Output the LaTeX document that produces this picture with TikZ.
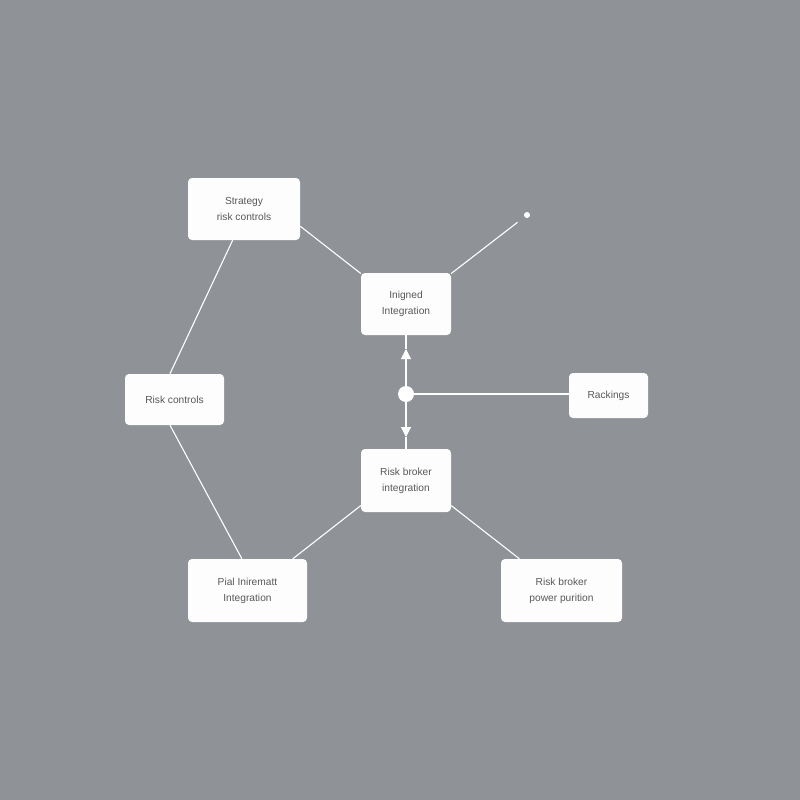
\documentclass[tikz,border=0pt]{standalone}
\usepackage{fontspec}
\setmainfont{Liberation Sans}
\usetikzlibrary{arrows.meta}
\definecolor{bg}{RGB}{143,147,151}
\definecolor{txt}{RGB}{88,88,90}
\definecolor{boxfill}{RGB}{253,253,253}
\tikzset{
  box/.style={draw=none, fill=boxfill, rounded corners=4pt, inner sep=0pt,
    align=center, text=txt, font=\fontsize{10.2}{16}\selectfont},
  wire/.style={draw=white, line width=1.1pt},
  tip/.style={-{Triangle[length=10pt,width=10pt]}}
}
\begin{document}
\begin{tikzpicture}[x=1pt,y=-1pt]
\fill[bg] (0,0) rectangle (800,800);
\useasboundingbox (0,0) rectangle (800,800);

\node[box, minimum width=112pt, minimum height=62pt] (strat) at (244,209) {Strategy\\risk controls};
\node[box, minimum width=90pt, minimum height=62pt] (inig) at (406,304) {Inigned\\Integration};
\node[box, minimum width=99pt, minimum height=51pt] (ctrl) at (174.5,399.5) {Risk controls};
\node[box, minimum width=79pt, minimum height=45pt] (rack) at (608.5,395.5) {Rackings};
\node[box, minimum width=90pt, minimum height=63pt] (rbi) at (406,480.5) {Risk broker\\integration};
\node[box, minimum width=119pt, minimum height=63pt] (pial) at (247.5,590.5) {Pial Inirematt\\Integration};
\node[box, minimum width=121pt, minimum height=63pt] (rbp) at (561.5,590.5) {Risk broker\\power purition};

\node[circle, fill=white, minimum size=16pt, inner sep=0pt] (j) at (406,394) {};
\node[circle, fill=white, minimum size=6pt, inner sep=0pt, outer sep=9pt] (dot) at (527,215) {};
\coordinate (up) at (406,349);
\coordinate (dn) at (406,437);

\draw[wire] (strat.-17) -- (inig.146);
\draw[wire] (inig.34) -- (dot);
\draw[wire] (strat.-110) -- (ctrl.100);
\draw[wire] (ctrl.-100) -- (pial.100);
\draw[wire] (rbi.-151) -- (pial.35);
\draw[wire] (rbi.-29) -- (rbp.143);
\draw[wire] (j) -- (j -| rack.west);
\draw[wire] (up) -- (inig.south);
\draw[wire] (dn) -- (rbi.north);
\draw[wire, tip, fill=white] (j) -- (up);
\draw[wire, tip, fill=white] (j) -- (dn);
\end{tikzpicture}
\end{document}
